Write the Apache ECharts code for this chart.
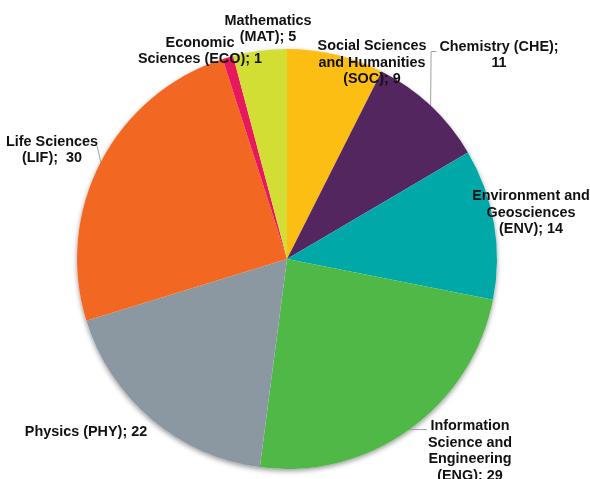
<!DOCTYPE html>
<html>
<head>
<meta charset="utf-8">
<script src="https://cdn.jsdelivr.net/npm/echarts@6/dist/echarts.min.js"></script>
<style>html,body{margin:0;padding:0;background:#fff;}#c{width:590px;height:479px;}</style>
</head>
<body>
<div id="c"></div>
<script>
var categories = ["Social Sciences and Humanities (SOC)", "Chemistry (CHE)", "Environment and Geosciences (ENV)", "Information Science and Engineering (ENG)", "Physics (PHY)", "Life Sciences (LIF)", "Economic Sciences (ECO)", "Mathematics (MAT)"];
var values = [9, 11, 14, 29, 22, 30, 1, 5];
var labelTexts = ["Social Sciences\nand Humanities\n(SOC); 9", "Chemistry (CHE);\n11", "Environment and\nGeosciences\n(ENV); 14", "Information\nScience and\nEngineering\n(ENG); 29", "Physics (PHY); 22", "Life Sciences\n(LIF);  30", "Economic\nSciences (ECO); 1", "Mathematics\n(MAT); 5"];
var colors = ["#FDBE14", "#54265F", "#00A9A8", "#50B847", "#8B98A2", "#F26722", "#E8185C", "#D2DE34"];
var lineStyleKind = ["none", "bracket", "none", "horizontal", "none", "direct", "none", "none"];
var labelPos = [[372, 63], [499, 55], [531, 213], [470, 451], [86, 432], [52, 150], [200, 51], [268, 29]];

var chart = echarts.init(document.getElementById('c'));
var data = categories.map(function (c, i) {
  return {
    name: c,
    value: values[i],
    itemStyle: { color: colors[i] },
    labelLine: { show: lineStyleKind[i] !== 'none' }
  };
});
chart.setOption({
  animation: false,
  series: [{
    type: 'pie',
    silent: true,
    z: 1,
    center: [287, 259],
    radius: 210,
    data: [{ value: 1, itemStyle: { color: '#ffffff', shadowBlur: 5, shadowOffsetY: 2, shadowColor: 'rgba(0,0,0,0.4)' } }],
    label: { show: false },
    labelLine: { show: false },
    emphasis: { disabled: true }
  }, {
    type: 'pie',
    z: 2,
    center: [287, 259],
    radius: 210,
    startAngle: 90,
    clockwise: true,
    data: data,
    itemStyle: { borderWidth: 0 },
    emphasis: { disabled: true },
    label: {
      show: true,
      position: 'outside',
      overflow: 'none',
      formatter: function (p) { return labelTexts[p.dataIndex]; },
      fontFamily: 'Liberation Sans, Arial, sans-serif',
      fontWeight: 'bold',
      fontSize: 14.4,
      lineHeight: 16.5,
      color: '#111',
      align: 'center'
    },
    labelLine: {
      length: 0,
      length2: 0,
      lineStyle: { color: '#a0a0a0', width: 1 }
    },
    labelLayout: function (params) {
      var i = params.dataIndex;
      var p = labelPos[i];
      var res = { x: p[0], y: p[1], align: 'center', verticalAlign: 'middle', hideOverlap: false };
      var pts = params.labelLinePoints;
      if (pts && pts.length) {
        var a = pts[0];
        var w = params.labelRect.width;
        var h = params.labelRect.height;
        var left = p[0] - w / 2;
        var right = p[0] + w / 2;
        var top = p[1] - h / 2;
        if (lineStyleKind[i] === 'bracket') {
          res.labelLinePoints = [[a[0], a[1]], [a[0] + 0.5, top + 13], [left - 3, top + 13]];
        } else if (lineStyleKind[i] === 'horizontal') {
          res.labelLinePoints = [[a[0], a[1]], [left - 1, a[1]]];
        } else if (lineStyleKind[i] === 'direct') {
          res.labelLinePoints = [[a[0], a[1]], [right - 1, top + 12]];
        }
      }
      return res;
    }
  }]
});
</script>
</body>
</html>
